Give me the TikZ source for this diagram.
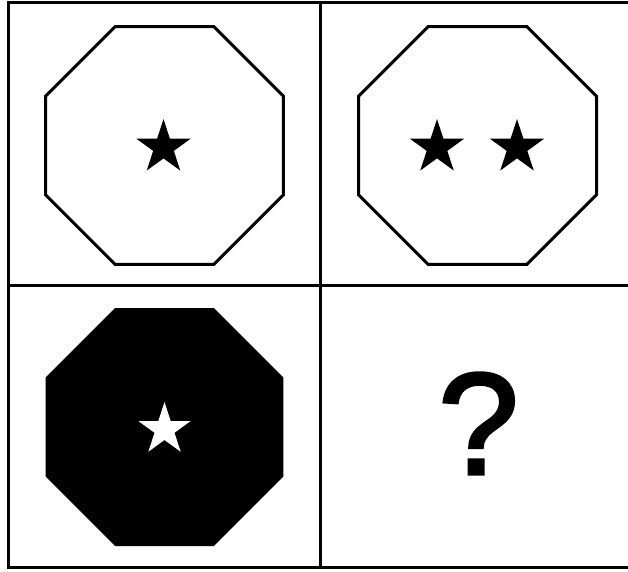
\documentclass[tikz,border=0pt]{standalone}
\usepackage{fontspec}
\setmainfont{Liberation Sans}
\newfontfamily\qfont[FakeBold=2.2]{Liberation Sans}
\usetikzlibrary{shapes.geometric}
\tikzset{
  grid/.style={line width=3pt, black},
  octo/.style={regular polygon, regular polygon sides=8, minimum size=257.6pt, inner sep=0pt, outer sep=0pt, line width=3pt},
  starshape/.style={star, star points=5, star point ratio=2.618, minimum size=57pt, inner sep=0pt, outer sep=0pt, fill=black},
}
\begin{document}
\begin{tikzpicture}[x=1pt,y=-1pt]
\useasboundingbox (0,0) rectangle (628,571);
\fill[white] (0,0) rectangle (628,571);
% grid
\coordinate (tl) at (8,2.5);
\coordinate (tr) at (630,2.5);
\coordinate (bl) at (8,567.5);
\coordinate (br) at (630,567.5);
\coordinate (vt) at (320,2.5);
\coordinate (vb) at (320,567.5);
\coordinate (hl) at (8,285.5);
\coordinate (hr) at (630,285.5);
\draw[grid] (tr) -- (tl) -- (bl) -- (br);
\draw[grid] (vt) -- (vb);
\draw[grid] (hl) -- (hr);
% octagons
\node[octo, draw] (o1) at (164.5,145.5) {};
\node[octo, draw] (o2) at (477.5,145.5) {};
\node[octo, fill=black] (o3) at (164.5,427) {};
% stars
\node[starshape] (s1) at (163.5,147.5) {};
\node[starshape] (s2) at (437,147.5) {};
\node[starshape] (s3) at (517,147.5) {};
\node[starshape, fill=white, minimum size=55pt] (s4) at (164.5,429.5) {};
% question mark
\node[inner sep=0pt] (q) at (478.5,423.5) {\qfont\fontsize{145}{145}\selectfont ?};
\end{tikzpicture}
\end{document}
